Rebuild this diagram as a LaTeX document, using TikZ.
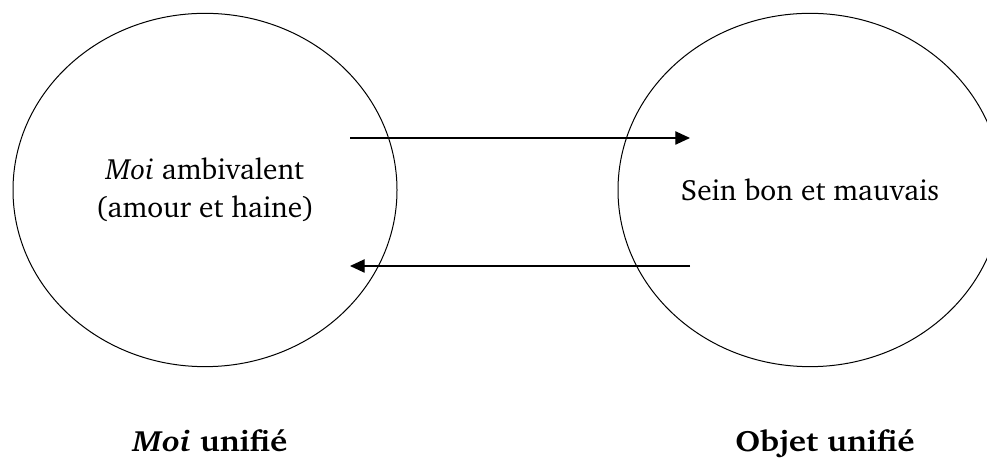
\documentclass[tikz,border=0pt]{standalone}
\usepackage[T1]{fontenc}
\usepackage{charter}
\usetikzlibrary{arrows.meta,shapes.geometric,positioning}
\tikzstyle{ellNode} = [ellipse, draw=black, line width=0.75pt, minimum width=288pt, minimum height=265pt, align=center, inner sep=0pt]
\tikzstyle{labNode} = [font=\fontsize{22}{28.5}\selectfont\bfseries, anchor=base]
\tikzstyle{arrowT} = [line width=0.9pt, -{Triangle[length=11pt,width=10pt]}]
\newcommand{\wide}[1]{\scalebox{1.12}[1]{#1}}

\begin{document}
\begin{tikzpicture}[x=0.75pt,y=0.75pt,font=\fontsize{22}{28.5}\selectfont]
    \clip (0,0) rectangle (987,459);
    \node (moi) [ellNode] at (205,269) {\textit{Moi} ambivalent\\(amour et haine)};
    \node (sein) [ellNode, right=165pt of moi] {Sein bon et mauvais};
    
    \node (moiU) [labNode] at (210,7) {\wide{\textit{Moi} unifi\'e}};
    \node (objU) [labNode] at (825,7) {\wide{Objet unifi\'e}};
    
    \coordinate (a1) at (350,321);
    \coordinate (a2) at (690,321);
    \coordinate (b1) at (690,193);
    \coordinate (b2) at (350,193);
    
    \draw [arrowT] (a1) -- (a2);
    \draw [arrowT] (b1) -- (b2);
    
\end{tikzpicture}
\end{document}
